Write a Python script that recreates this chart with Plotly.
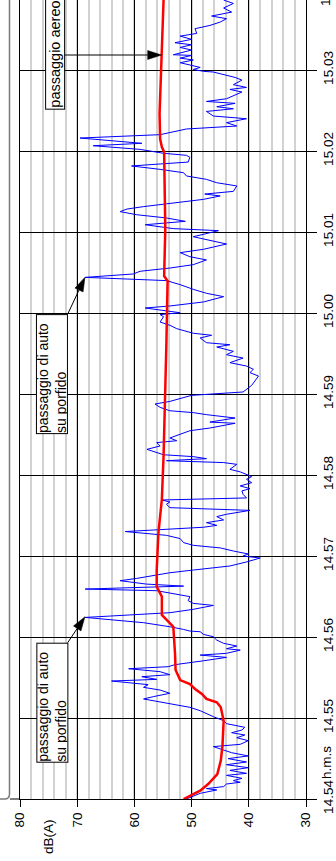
import math
import plotly.graph_objects as go

# ---------------- data (time in seconds after 14.54.00, level in dB(A)) ----------------
blue_t = [
    0, 4.2, 6.7, 7.7, 9.2, 11.1, 12.4, 13.6, 15.3, 17.5, 19.0, 21.2, 23.2, 25.4, 27.4, 29.9, 31.9, 34.3, 38.8, 40.5,
    43.2, 45.4, 47.4, 49.1, 51.1, 53.1, 55.8, 58.0, 61.0, 63.5, 65.4, 67.9, 70.4, 72.4, 74.1, 75.8, 78.3, 80.7, 82.7, 84.7,
    87.4, 88.6, 90.6, 92.1, 94.3, 96.5, 98.0, 99.5, 100.5, 102.4, 104.9, 106.6, 107.9, 110.3, 111.3, 113.3, 115.3, 117.7, 120.2, 121.9,
    123.9, 124.4, 125.6, 127.6, 130.6, 133.1, 134.5, 135.5, 137.0, 138.0, 140.5, 143.4, 144.9, 146.9, 149.9, 152.3, 154.3, 155.5, 157.7, 159.2,
    161.7, 163.4, 165.9, 167.6, 169.6,
    172.6, 175.6, 178.5, 180.0, 181.5, 183.7, 186.0, 187.9, 189.9, 192.9, 195.3, 198.1, 199.3, 201.3, 202.7, 204.7, 206.7, 209.2, 210.9, 213.8,
    215.8, 218.3, 220.0, 221.5, 223.0, 225.7, 228.2, 229.9, 231.9, 234.3, 236.8, 238.8, 242.3, 244.2, 247.9, 249.2, 250.6, 252.1, 253.6,
    255.0, 259.0, 261.5, 264.0, 265.4, 267.4, 270.4, 272.8, 274.8, 278.3, 279.2, 282.2, 284.7, 286.2, 287.6, 290.1, 292.6, 294.5, 299.0, 301.5,
    306.4, 313.3, 315.8, 318.3, 320.7, 323.2, 326.6, 329.1, 331.6, 334.8, 336.5, 338.0,
    341.5, 343.5, 345.0, 348.4, 350.9, 353.3, 357.3, 358.8, 360.2, 363.7, 365.2, 368.2, 372.1, 374.6, 377.5, 381.0, 384.0, 386.4, 388.9, 390.9,
    393.3, 395.8, 399.3, 401.7, 404.7, 407.2, 411.1, 414.1, 416.5, 421.0, 422.5,
    425.4, 427.9, 430.4, 432.8, 435.1, 437.0, 438.8, 441.7, 444.2, 446.7, 448.1, 450.1, 454.1, 456.5, 459.0, 461.5, 463.9, 466.4, 468.9, 470.4,
    471.8, 475.3, 476.8, 478.3, 481.2, 483.9, 485.7, 489.6, 492.1, 496.3, 498.5, 501.0, 503.9, 505.9,
    509.3, 511.3, 512.8, 515.3, 516.7, 518.7, 521.2, 523.7, 525.6, 527.1, 529.1, 532.5, 534.5, 536.5, 538.5, 539.0, 540.4, 541.9, 543.9, 545.4,
    547.4, 548.8, 550.8, 551.3, 554.8, 556.7, 558.7, 560.2, 562.7, 565.1, 567.1, 570.6, 573.0, 575.5, 578.0, 580.0, 582.9, 585.9, 589.3, 591.8,
]
blue_db = [
    50.9, 48.5, 45.6, 47.4, 44.4, 43.9, 41.5, 42.7, 41.2, 43.9, 40.4, 43.3, 40.1, 43.9, 40.4, 43.6, 40.1, 43.0, 46.2, 41.5,
    40.1, 42.1, 40.7, 43.0, 41.2, 40.7, 43.9, 44.4, 46.2, 47.4, 48.5, 50.3, 53.8, 56.1, 58.4, 56.7, 53.8, 55.5, 58.4, 57.6,
    64.0, 56.1, 58.7, 53.8, 55.5, 61.0, 54.1, 52.9, 50.9, 47.9, 43.9, 48.5, 43.9, 41.5, 43.9, 42.1, 44.4, 45.6, 46.2, 47.9,
    48.5, 50.3, 51.4, 53.8, 58.4, 64.3, 68.6, 64.3, 58.4, 53.8, 49.7, 46.2, 49.7, 50.6, 50.3, 53.8, 56.1, 68.6, 51.4, 57.9,
    62.5, 59.6, 56.1, 53.8, 49.7,
    43.3, 40.4, 38.0, 41.0, 40.1, 42.7, 45.0, 49.7, 51.4, 52.0, 54.4, 61.6, 55.5, 47.9, 45.6, 47.4, 44.4, 45.6, 43.9, 39.8,
    53.8, 54.4, 53.8, 55.2, 40.4, 41.0, 41.2, 39.8, 41.5, 39.5, 40.4, 39.5, 41.5, 43.3, 42.1, 44.4, 54.4, 47.4, 49.7,
    54.9, 57.8, 55.5, 56.1, 52.6, 53.8, 52.0, 50.3, 46.8, 42.4, 46.8, 42.4, 47.4, 49.7, 53.8, 55.5, 56.4, 53.8, 50.0, 41.0,
    39.5, 38.3, 39.8, 39.2, 40.4, 43.3, 41.0, 43.9, 42.7, 45.6, 43.3, 47.4,
    48.5, 46.5, 49.7, 52.6, 53.8, 55.5, 54.9, 55.5, 52.0, 58.1, 53.8, 47.9, 44.4, 47.4, 49.7, 52.0, 54.4, 68.6, 60.2, 59.0,
    53.8, 49.7, 47.4, 50.3, 52.0, 47.9, 43.9, 47.4, 49.7, 45.3, 53.2,
    58.1, 51.1, 54.4, 59.6, 62.5, 61.3, 58.4, 52.6, 47.9, 45.0, 47.7, 42.7, 42.1, 45.6, 47.4, 50.9, 51.4, 55.5, 60.5, 55.5,
    50.6, 50.3, 50.9, 54.9, 59.0, 67.2, 58.7, 69.5, 55.5, 50.9, 42.1, 43.9, 40.4, 46.2,
    47.4, 42.7, 45.6, 42.4, 47.4, 43.9, 42.7, 41.2, 43.3, 40.4, 42.7, 41.2, 42.4, 44.4, 46.2, 47.9, 49.7, 48.5, 50.3, 52.0,
    49.7, 52.0, 50.0, 53.2, 50.0, 52.0, 50.0, 52.9, 50.0, 52.0, 49.1, 49.4, 46.8, 45.0, 43.9, 46.5, 43.0, 44.4, 42.7, 44.4,
]

red_t = [0, 6.2, 11.1, 18.5, 28.4, 39.5, 58.0, 67.9, 71.6, 74.1, 77.8, 81.5, 85.2, 88.1, 95.5, 107.9, 127.6, 132.6,
         136.3, 149.9, 154.3, 157.3, 169.6, 197.2, 222.0, 254.1, 338.5, 383.7, 387.4, 422.2, 479.2, 482.9, 488.9,
         507.4, 591.8]
red_db = [51.4, 48.5, 47.1, 45.5, 44.9, 44.6, 44.4, 44.9, 45.6, 47.4, 48.2, 49.4, 50.3, 52.0, 52.8, 52.9, 53.2, 54.4,
          55.2, 55.2, 55.8, 56.1, 56.1, 55.8, 55.2, 54.9, 54.4, 54.2, 54.8, 54.6, 54.8, 55.2, 55.5, 55.6, 54.9]

time_ticks = [0, 60, 120, 180, 240, 300, 360, 420, 480, 540]
time_labels = ["14.54", "14.55", "14.56", "14.57", "14.58", "14.59", "15.00", "15.01", "15.02", "15.03"]
db_ticks = [80, 70, 60, 50, 40, 30]
db_labels = ["80", "70", "60", "50", "40", "30"]

note_auto = "passaggio di auto<br>su porfido"
note_aereo = "passaggio aereo"

# ---------------- layout constants ----------------
W, H = 336, 861
ML, MR, MT, MB = 20, 30, 0, 62
PW, PH = W - ML - MR, H - MT - MB
T_MAX = 591.85
DB_L, DB_R = 80, 30
PX_DB = PW / (DB_L - DB_R)
PX_S = PH / T_MAX
FONT = "Liberation Sans, Arial, sans-serif"


def px_to_paper_x(px):
    return (px - ML) / PW


def px_to_paper_y(py):
    return (H - MB - py) / PH


fig = go.Figure()
fig.add_trace(go.Scatter(x=blue_db, y=blue_t, mode="lines",
                         line=dict(color="#0000ff", width=1), hoverinfo="skip"))
fig.add_trace(go.Scatter(x=red_db, y=red_t, mode="lines",
                         line=dict(color="#ff0000", width=2.5), hoverinfo="skip"))

tickfont = dict(family=FONT, size=13.5, color="black")
fig.update_xaxes(range=[DB_L, DB_R], tickvals=db_ticks, ticktext=db_labels, tickangle=-90,
                 ticks="outside", ticklen=7, tickcolor="black", tickwidth=1,
                 showgrid=True, gridcolor="black", gridwidth=1,
                 minor=dict(dtick=2, tick0=0, showgrid=True, gridcolor="#d2d2d2", gridwidth=1.5, ticks=""),
                 showline=True, linecolor="black", linewidth=1, zeroline=False,
                 tickfont=tickfont, automargin=False, fixedrange=True)
fig.update_yaxes(range=[0, T_MAX], tickvals=time_ticks, ticktext=time_labels, tickangle=-90,
                 side="right", ticks="outside", ticklen=10, tickcolor="black", tickwidth=1,
                 showgrid=True, gridcolor="black", gridwidth=1,
                 showline=True, mirror=True, linecolor="black", linewidth=1, zeroline=False,
                 tickfont=tickfont, automargin=False, fixedrange=True)

annfont = dict(family=FONT, size=14, color="black")
box_style = dict(showarrow=False, textangle=-90, bordercolor="black", borderwidth=1,
                 bgcolor="white", align="left", xanchor="center")
# box tops sit just under the arrow tails
fig.add_annotation(x=74.4, y=115.8, xref="x", yref="y", text=note_auto, yanchor="top",
                   width=118, height=30, borderpad=0, font=annfont, **box_style)
fig.add_annotation(x=74.4, y=359.2, xref="x", yref="y", text=note_auto, yanchor="top",
                   width=118, height=30, borderpad=0, font=annfont, **box_style)
fig.add_annotation(x=73.9, y=510.9, xref="x", yref="y", text=note_aereo, yanchor="bottom",
                   borderpad=1, font=dict(family=FONT, size=14.5, color="black"), **box_style)

# axis unit labels and partial 15.04 label
LBL_X = px_to_paper_x(326)
fig.add_annotation(x=75.1, y=px_to_paper_y(837), xref="x", yref="paper", text="dB(A)",
                   textangle=-90, showarrow=False, font=tickfont, xanchor="center", yanchor="middle")
fig.add_annotation(x=LBL_X, y=px_to_paper_y(763), xref="paper", yref="paper", text="h.m.s",
                   textangle=-90, showarrow=False, font=tickfont, xanchor="center", yanchor="middle")
fig.add_annotation(x=LBL_X, y=600 / T_MAX, xref="paper", yref="paper", text="15.04",
                   textangle=-90, showarrow=False, font=tickfont, xanchor="center", yanchor="middle")

# arrows (line + slim filled head)
shapes = []


def add_arrow(x0, y0, x1, y1, L=14, hw=4.5):
    dx = -(x1 - x0) * PX_DB
    dy = (y1 - y0) * PX_S
    n = math.hypot(dx, dy)
    ux, uy = dx / n, dy / n
    bx, by = -ux * L, -uy * L
    pxo, pyo = -uy * hw, ux * hw

    def to_data(ox, oy):
        return x1 - ox / PX_DB, y1 + oy / PX_S

    p1 = to_data(bx + pxo, by + pyo)
    p2 = to_data(bx - pxo, by - pyo)
    pb = to_data(bx, by)
    shapes.append(dict(type="line", xref="x", yref="y", x0=x0, y0=y0, x1=pb[0], y1=pb[1],
                       line=dict(color="black", width=1)))
    shapes.append(dict(type="path", xref="x", yref="y",
                       path=f"M {x1},{y1} L {p1[0]},{p1[1]} L {p2[0]},{p2[1]} Z",
                       fillcolor="black", line=dict(color="black", width=0.5)))


add_arrow(71.66, 115.8, 68.64, 135.0)
add_arrow(71.66, 359.2, 68.64, 386.4)
add_arrow(72.43, 551.1, 55.23, 551.1)

# outer frame remnant on the left
fx, fx2, fx0 = px_to_paper_x(9.5), px_to_paper_x(4.5), px_to_paper_x(0)
shapes.append(dict(type="path", xref="paper", yref="paper",
                   path=f"M {fx},1.02 L {fx},{px_to_paper_y(794)} Q {fx},0 {fx2},0 L {fx0},0",
                   line=dict(color="#7a7a7a", width=1.5)))
shapes.append(dict(type="line", xref="paper", yref="paper", x0=px_to_paper_x(10), x1=0, y0=0, y1=0,
                   line=dict(color="black", width=1)))

fig.update_layout(width=W, height=H, margin=dict(l=ML, r=MR, t=MT, b=MB, pad=0),
                  template="none", paper_bgcolor="white", plot_bgcolor="white",
                  showlegend=False, shapes=shapes)

fig.write_html("out.html", config={"displayModeBar": False})
